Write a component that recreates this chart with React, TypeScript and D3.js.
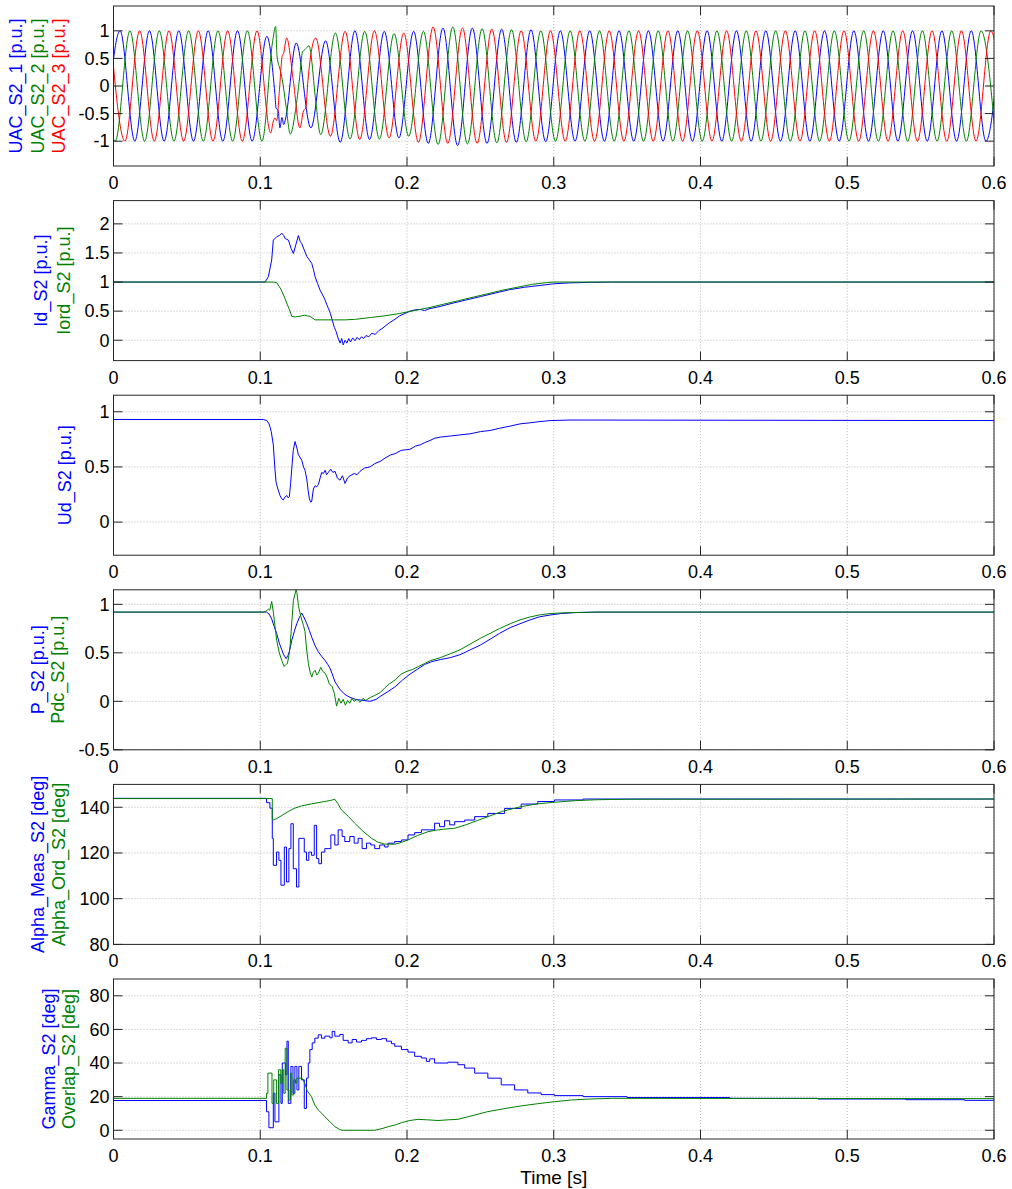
import React from "react";
import * as d3 from "d3";

// ---------- axes ----------
const X_TICKS = [0, 0.1, 0.2, 0.3, 0.4, 0.5, 0.6];
const X_TICK_LABELS = ["0", "0.1", "0.2", "0.3", "0.4", "0.5", "0.6"];

// ---------- panel 1 : three-phase AC voltage (extrema read per half cycle) ----------
const HALF_PERIOD = 0.01;
const uac1FirstExtremumTime = -0.0055; // first extremum is a trough
const uac2FirstExtremumTime = -0.0088; // first extremum is a peak
const uac3FirstExtremumTime = -0.0022; // first extremum is a peak
const uac1FirstSign = -1;
const uac2FirstSign = 1;
const uac3FirstSign = 1;
const uac1Amps = [
  1, 1, 1, 1, 1, 1, 1, 1, 1, 1, 1, 0.9, 0.79, 0.78, 0.76, 0.82, 1.02, 1.0, 0.97, 0.99, 0.94, 0.99,
  1.04, 1.05, 1.08, 1.05, 1.04, 1.03, 1.02, 1.02, 1.01, 1, 1, 1, 1, 1, 1, 1, 1, 1, 1, 1, 1, 1, 1, 1,
  1, 1, 1, 1, 1, 1, 1, 1, 1, 1, 1, 1, 1, 1, 1, 1,
];
const uac2Amps = [
  1, 1, 1, 1, 1, 1, 1, 1, 1, 1, 1, 1, 1.08, 0.88, 0.72, 0.88, 0.96, 0.96, 0.99, 0.96, 0.95, 0.91,
  0.99, 1.06, 1.07, 1.05, 1.04, 1.03, 1.02, 1.01, 1, 1, 1, 1, 1, 1, 1, 1, 1, 1, 1, 1, 1, 1, 1, 1, 1,
  1, 1, 1, 1, 1, 1, 1, 1, 1, 1, 1, 1, 1, 1, 1,
];
const uac3Amps = [
  1, 1, 1, 1, 1, 1, 1, 1, 1, 1, 1, 0.85, 0.87, 0.76, 0.87, 0.91, 0.99, 0.97, 1.0, 0.94, 0.96, 1.02,
  1.07, 1.04, 1.05, 1.04, 1.03, 1.02, 1, 1, 1, 1, 1, 1, 1, 1, 1, 1, 1, 1, 1, 1, 1, 1, 1, 1, 1, 1, 1,
  1, 1, 1, 1, 1, 1, 1, 1, 1, 1, 1, 1, 1,
];
// distorted stretches during the fault
const uac1Fault: [number, number][] = [
  [0.11, -0.15], [0.1108, -0.4], [0.1122, -0.44], [0.1134, -0.76], [0.1148, -0.57], [0.116, -0.7], [0.1172, -0.6],
];
const uac2Fault: [number, number][] = [
  [0.1085, 0.82], [0.1105, 1.08], [0.1114, 0.55], [0.1135, 0.3], [0.115, 0.12], [0.1175, -0.35], [0.1205, -0.87],
  [0.124, -0.45], [0.1268, 0.15], [0.1288, 0.62], [0.1305, 0.66], [0.1333, 0.73], [0.1345, 0.58], [0.1375, -0.2],
];
const uac3Fault: [number, number][] = [
  [0.1071, -0.85], [0.109, -0.63], [0.11, -0.58], [0.1112, -0.63], [0.113, -0.1], [0.115, 0.55], [0.116, 0.6],
  [0.117, 0.76], [0.118, 0.87], [0.1225, 0.1], [0.127, -0.76], [0.1295, -0.45], [0.131, -0.4], [0.1325, 0.1],
];

// ---------- panel 2 ----------
const idS2: [number, number][] = [
  [0, 1], [0.1033, 1.0], [0.1055, 1.09], [0.1078, 1.38], [0.1089, 1.72], [0.1112, 1.78], [0.113, 1.8], [0.1147, 1.84],
  [0.116, 1.8], [0.1169, 1.75], [0.1192, 1.72], [0.121, 1.58], [0.1226, 1.49], [0.124, 1.62], [0.126, 1.8],
  [0.1272, 1.7], [0.1283, 1.66], [0.13, 1.55], [0.1317, 1.44], [0.1335, 1.38], [0.1351, 1.32], [0.1362, 1.22],
  [0.1374, 1.09], [0.139, 0.98], [0.1408, 0.86], [0.1425, 0.78], [0.1442, 0.69], [0.1452, 0.62], [0.1464, 0.55],
  [0.1478, 0.46], [0.149, 0.35], [0.1505, 0.22], [0.1517, 0.15], [0.153, 0.04], [0.1544, -0.05], [0.1555, 0.03],
  [0.1565, -0.08], [0.1578, 0.0], [0.159, -0.05], [0.1603, 0.03], [0.1615, -0.03], [0.163, 0.04], [0.1645, -0.01],
  [0.166, 0.05], [0.1675, 0.01], [0.169, 0.06], [0.1705, 0.03], [0.172, 0.08], [0.174, 0.06], [0.176, 0.12],
  [0.1783, 0.1], [0.181, 0.17], [0.183, 0.2], [0.185, 0.24], [0.188, 0.3], [0.1918, 0.36], [0.195, 0.42],
  [0.1987, 0.46], [0.202, 0.5], [0.205, 0.52], [0.2089, 0.53], [0.212, 0.51], [0.215, 0.54], [0.2226, 0.58],
  [0.23, 0.63], [0.24, 0.69], [0.25, 0.75], [0.26, 0.81], [0.27, 0.87], [0.28, 0.91], [0.29, 0.94], [0.3, 0.97],
  [0.31, 0.985], [0.325, 0.995], [0.34, 1.0], [0.6, 1.0],
];
const iordS2: [number, number][] = [
  [0, 1], [0.109, 1.0], [0.1112, 0.99], [0.114, 0.88], [0.1165, 0.74], [0.118, 0.64], [0.12, 0.52], [0.1215, 0.41],
  [0.124, 0.4], [0.1283, 0.42], [0.13, 0.43], [0.132, 0.42], [0.134, 0.41], [0.1374, 0.35], [0.15, 0.35],
  [0.158, 0.35], [0.165, 0.36], [0.175, 0.39], [0.185, 0.42], [0.195, 0.46], [0.205, 0.51], [0.215, 0.56],
  [0.225, 0.62], [0.235, 0.68], [0.245, 0.74], [0.255, 0.8], [0.265, 0.86], [0.275, 0.91], [0.285, 0.96],
  [0.295, 0.99], [0.3, 1.0], [0.6, 1.0],
];

// ---------- panel 3 ----------
const udS2: [number, number][] = [
  [0, 0.93], [0.1021, 0.93], [0.1045, 0.92], [0.106, 0.89], [0.1067, 0.86], [0.1075, 0.82], [0.1089, 0.7],
  [0.11, 0.48], [0.1108, 0.36], [0.112, 0.3], [0.1135, 0.24], [0.1147, 0.21], [0.1157, 0.2], [0.117, 0.23],
  [0.1181, 0.24], [0.119, 0.22], [0.1198, 0.23], [0.1207, 0.35], [0.1215, 0.49], [0.1225, 0.65], [0.1237, 0.73],
  [0.1248, 0.68], [0.126, 0.61], [0.127, 0.59], [0.1283, 0.56], [0.1295, 0.5], [0.1305, 0.47], [0.1317, 0.39],
  [0.1327, 0.28], [0.1335, 0.21], [0.1345, 0.18], [0.1351, 0.19], [0.1362, 0.3], [0.1374, 0.33], [0.1385, 0.32],
  [0.1396, 0.34], [0.1408, 0.4], [0.1419, 0.45], [0.143, 0.44], [0.1442, 0.47], [0.1452, 0.43], [0.1464, 0.45],
  [0.148, 0.48], [0.1495, 0.45], [0.151, 0.46], [0.1525, 0.4], [0.1544, 0.38], [0.156, 0.42], [0.1578, 0.35],
  [0.1595, 0.4], [0.1612, 0.42], [0.164, 0.44], [0.166, 0.43], [0.168, 0.46], [0.171, 0.49], [0.1748, 0.5],
  [0.178, 0.53], [0.1817, 0.55], [0.185, 0.58], [0.189, 0.61], [0.1919, 0.62], [0.196, 0.65], [0.202, 0.66],
  [0.206, 0.69], [0.209, 0.7], [0.212, 0.72], [0.2157, 0.74], [0.219, 0.76], [0.2226, 0.77], [0.2294, 0.78],
  [0.236, 0.79], [0.243, 0.8], [0.25, 0.82], [0.2566, 0.83], [0.263, 0.85], [0.2703, 0.87], [0.277, 0.89],
  [0.2839, 0.9], [0.29, 0.91], [0.2975, 0.92], [0.3112, 0.925], [0.6, 0.92],
];

// ---------- panel 4 ----------
const pS2: [number, number][] = [
  [0, 0.92], [0.1044, 0.92], [0.106, 0.9], [0.1078, 0.85], [0.1095, 0.77], [0.1112, 0.7], [0.113, 0.6],
  [0.1147, 0.53], [0.116, 0.48], [0.1176, 0.44], [0.1188, 0.47], [0.1198, 0.51], [0.1215, 0.63], [0.1232, 0.72],
  [0.1249, 0.8], [0.1265, 0.86], [0.1283, 0.91], [0.13, 0.86], [0.1317, 0.8], [0.1335, 0.73], [0.1351, 0.66],
  [0.1372, 0.58], [0.1396, 0.51], [0.142, 0.46], [0.1442, 0.42], [0.146, 0.38], [0.1476, 0.34], [0.151, 0.2],
  [0.1544, 0.12], [0.1578, 0.07], [0.1612, 0.04], [0.165, 0.02], [0.17, 0.01], [0.1748, 0.0], [0.179, 0.02],
  [0.1817, 0.05], [0.187, 0.1], [0.1919, 0.15], [0.197, 0.22], [0.202, 0.28], [0.207, 0.33], [0.212, 0.38],
  [0.217, 0.41], [0.2226, 0.43], [0.2294, 0.45], [0.236, 0.48], [0.243, 0.53], [0.25, 0.58], [0.2566, 0.64],
  [0.263, 0.7], [0.2703, 0.76], [0.277, 0.8], [0.2839, 0.84], [0.29, 0.87], [0.2975, 0.89], [0.305, 0.905],
  [0.315, 0.915], [0.33, 0.92], [0.6, 0.92],
];
const pdcS2: [number, number][] = [
  [0, 0.92], [0.1021, 0.92], [0.104, 0.93], [0.1055, 0.95], [0.1065, 0.94], [0.1078, 1.03], [0.1089, 0.92],
  [0.11, 0.78], [0.1112, 0.63], [0.113, 0.5], [0.1147, 0.42], [0.1162, 0.36], [0.1175, 0.38], [0.1185, 0.39],
  [0.1195, 0.47], [0.1203, 0.56], [0.1215, 0.82], [0.1226, 1.04], [0.1244, 1.15], [0.125, 1.12], [0.126, 0.99],
  [0.1272, 0.9], [0.1283, 0.84], [0.1295, 0.78], [0.1305, 0.72], [0.1315, 0.55], [0.1328, 0.39], [0.134, 0.3],
  [0.1351, 0.25], [0.1362, 0.3], [0.1374, 0.32], [0.1385, 0.27], [0.1396, 0.29], [0.1412, 0.35], [0.1425, 0.31],
  [0.1442, 0.29], [0.1455, 0.25], [0.1471, 0.18], [0.149, 0.15], [0.1505, 0.08], [0.152, -0.05], [0.1535, 0.03],
  [0.155, -0.02], [0.1565, 0.02], [0.158, -0.04], [0.1595, 0.01], [0.161, -0.02], [0.1625, 0.03], [0.164, 0.0],
  [0.166, 0.02], [0.168, -0.01], [0.17, 0.03], [0.172, 0.01], [0.175, 0.04], [0.178, 0.06], [0.1817, 0.09],
  [0.185, 0.14], [0.188, 0.18], [0.1919, 0.22], [0.196, 0.28], [0.2, 0.31], [0.204, 0.33], [0.208, 0.36],
  [0.212, 0.39], [0.216, 0.42], [0.2226, 0.45], [0.2294, 0.49], [0.236, 0.53], [0.243, 0.59], [0.25, 0.65],
  [0.2566, 0.7], [0.263, 0.75], [0.2703, 0.8], [0.277, 0.84], [0.2839, 0.87], [0.29, 0.89], [0.2975, 0.905],
  [0.31, 0.915], [0.33, 0.92], [0.6, 0.92],
];

// ---------- panel 5 ----------
const alphaMeasS2: [number, number][] = [
  [0, 143.9], [0.1043, 142.0], [0.1066, 139.6], [0.1082, 126.4], [0.1089, 114.6], [0.1111, 120.4], [0.1127, 116.8],
  [0.1141, 105.9], [0.1164, 122.6], [0.1179, 107.3], [0.1195, 121.9], [0.1209, 132.8], [0.1225, 113.1],
  [0.1247, 105.1], [0.1263, 126.4], [0.13, 120.4], [0.1315, 116.8], [0.1331, 120.4], [0.1349, 119.0],
  [0.1368, 132.1], [0.1384, 117.5], [0.1399, 115.3], [0.1417, 120.4], [0.144, 121.9], [0.1481, 127.9],
  [0.1508, 123.5], [0.1531, 130.1], [0.1558, 127.2], [0.1576, 125.0], [0.161, 127.2], [0.164, 124.3],
  [0.1667, 126.4], [0.1694, 121.9], [0.1724, 124.3], [0.1753, 123.5], [0.178, 121.9], [0.1814, 123.5],
  [0.1848, 122.6], [0.1871, 124.3], [0.1916, 125.0], [0.1962, 125.7], [0.2007, 127.9], [0.2052, 128.9],
  [0.2098, 130.1], [0.2188, 133.0], [0.2222, 131.5], [0.2256, 134.1], [0.2291, 132.3], [0.2325, 133.7],
  [0.2393, 134.4], [0.2461, 135.9], [0.2551, 137.3], [0.2665, 139.5], [0.2778, 141.4], [0.2891, 142.5],
  [0.3005, 143.2], [0.32, 143.6], [0.6, 143.6],
];
const alphaOrdS2: [number, number][] = [
  [0, 143.8], [0.1082, 143.8], [0.1082, 134.7], [0.109, 134.5], [0.111, 135.0], [0.115, 136.5], [0.119, 138.1],
  [0.123, 139.5], [0.1282, 140.6], [0.135, 141.5], [0.142, 142.3], [0.148, 143.0], [0.1508, 143.5],
  [0.153, 141.5], [0.1554, 138.8], [0.16, 136.0], [0.1644, 133.0], [0.17, 129.5], [0.1758, 126.4],
  [0.18, 124.8], [0.1848, 123.9], [0.1916, 123.8], [0.196, 124.6], [0.2007, 125.7], [0.207, 127.6],
  [0.2143, 129.3], [0.22, 130.0], [0.225, 130.4], [0.2324, 130.8], [0.24, 132.3], [0.248, 134.2],
  [0.2551, 135.9], [0.265, 138.2], [0.2778, 140.3], [0.289, 141.5], [0.3005, 142.2], [0.315, 142.9],
  [0.33, 143.3], [0.35, 143.5], [0.6, 143.6],
];

// ---------- panel 6 ----------
const gammaS2: [number, number][] = [
  [0, 17.7], [0.1043, 11], [0.1059, 1.5], [0.1089, 22], [0.11, 5], [0.1127, 33], [0.1141, 16], [0.115, 40],
  [0.1173, 33], [0.1182, 53], [0.1191, 16], [0.1209, 38], [0.1223, 22], [0.1236, 38], [0.125, 24], [0.1263, 38],
  [0.1281, 30], [0.13, 13], [0.1315, 31], [0.1327, 40], [0.1338, 48], [0.1354, 52], [0.1372, 54.8], [0.1395, 56.8],
  [0.1417, 54.8], [0.144, 56], [0.1474, 55], [0.149, 58.8], [0.1508, 56], [0.1542, 57], [0.1565, 53.5],
  [0.1599, 52], [0.1626, 54], [0.1656, 52.5], [0.169, 53.5], [0.1724, 54.5], [0.1758, 55], [0.1792, 54],
  [0.1826, 54.5], [0.186, 53], [0.1894, 51.5], [0.1916, 50], [0.1962, 48], [0.2007, 46.5], [0.2052, 44],
  [0.2098, 43], [0.2132, 41], [0.2155, 42.5], [0.2188, 40], [0.2279, 40.5], [0.2347, 39], [0.2393, 37],
  [0.2461, 34], [0.2551, 31], [0.2642, 27], [0.2733, 24], [0.2823, 22.2], [0.2914, 21.2], [0.3005, 20.6],
  [0.32, 20], [0.35, 19.5], [0.42, 19], [0.48, 18.6], [0.54, 18.2], [0.58, 17.8], [0.6, 17.6],
];
const overlapS2: [number, number][] = [
  [0, 19], [0.1043, 19], [0.1043, 22], [0.1052, 22], [0.1052, 34], [0.108, 34], [0.108, 16], [0.1092, 16],
  [0.1092, 30], [0.111, 30], [0.111, 16], [0.1125, 16], [0.1125, 36], [0.114, 36], [0.114, 28], [0.115, 28],
  [0.115, 36], [0.116, 36], [0.116, 22], [0.117, 22], [0.117, 48.8], [0.1182, 48.8], [0.1182, 24], [0.1195, 24],
  [0.1195, 18], [0.1205, 18], [0.1205, 34], [0.1215, 34], [0.1215, 21], [0.1228, 21], [0.1228, 30], [0.124, 30],
  [0.124, 28], [0.125, 28], [0.125, 31], [0.1285, 31], [0.1304, 27.9], [0.132, 23.5], [0.1349, 20], [0.1372, 15],
  [0.1395, 12.1], [0.142, 10], [0.144, 8.1], [0.147, 5.5], [0.1508, 2.2], [0.154, 0.5], [0.1558, 0], [0.178, 0],
  [0.183, 1.0], [0.1871, 2.1], [0.192, 3.2], [0.1962, 4.5], [0.202, 5.8], [0.2075, 6.5], [0.214, 6.2],
  [0.2211, 5.8], [0.228, 6.2], [0.2347, 6.5], [0.245, 8.8], [0.2551, 11.1], [0.266, 12.8], [0.2778, 14.5],
  [0.289, 15.8], [0.3005, 17.0], [0.312, 18.0], [0.325, 18.6], [0.34, 19.0], [0.6, 18.8],
];

// ---------- layout ----------
const W = 1012;
const H = 1189;
const LEFT = 113.5;
const RIGHT = 994;
const PANEL_H = 160;
const PANEL_STEP = 194.6;
const FIRST_TOP = 6;
const FONT = "'Liberation Sans', Arial, Helvetica, sans-serif";
const FS = 18;
const BLUE = "#0000ff";
const GREEN = "#008000";
const RED = "#ff0000";

function buildWave(first: number, sign: number, amps: number[], fault: [number, number][]) {
  const lo = fault[0][0];
  const hi = fault[fault.length - 1][0];
  const pts: [number, number][] = [];
  amps.forEach((a, k) => {
    const t = first + k * HALF_PERIOD;
    if (t >= lo && t <= hi) return;
    const s = k % 2 === 0 ? sign : -sign;
    pts.push([t, s * a]);
  });
  fault.forEach((p) => pts.push(p));
  pts.sort((a, b) => a[0] - b[0]);
  return pts;
}

type Series = { data: [number, number][]; color: string; curve: any };
type Label = { text: string; color: string; x: number };

function Panel(props: {
  index: number;
  yDomain: [number, number];
  yTicks: number[];
  yTickLabels: string[];
  series: Series[];
  labels: Label[];
}) {
  const { index, yDomain, yTicks, yTickLabels, series, labels } = props;
  const top = FIRST_TOP + index * PANEL_STEP;
  const bottom = top + PANEL_H;
  const x = d3.scaleLinear().domain([0, 0.6]).range([LEFT, RIGHT]);
  const y = d3.scaleLinear().domain(yDomain).range([bottom, top]);
  const clipId = `clip-${index}`;
  const tickLen = 9;
  const mid = (top + bottom) / 2;
  return (
    <g>
      <defs>
        <clipPath id={clipId}>
          <rect x={LEFT} y={top} width={RIGHT - LEFT} height={PANEL_H} />
        </clipPath>
      </defs>
      <rect x={LEFT} y={top} width={RIGHT - LEFT} height={PANEL_H} fill="#ffffff" />
      {X_TICKS.map((t) => (
        <line key={`gx${t}`} x1={x(t)} x2={x(t)} y1={top} y2={bottom} stroke="#b8b8b8" strokeWidth={1} strokeDasharray="1,2" />
      ))}
      {yTicks.map((v) => (
        <line key={`gy${v}`} x1={LEFT} x2={RIGHT} y1={y(v)} y2={y(v)} stroke="#b8b8b8" strokeWidth={1} strokeDasharray="1,2" />
      ))}
      <g clipPath={`url(#${clipId})`}>
        {series.map((s, i) => {
          const line = d3
            .line<[number, number]>()
            .x((d) => x(d[0]))
            .y((d) => y(d[1]))
            .curve(s.curve);
          return <path key={i} d={line(s.data) || ""} fill="none" stroke={s.color} strokeWidth={1} />;
        })}
      </g>
      {X_TICKS.map((t) => (
        <g key={`tx${t}`}>
          <line x1={x(t)} x2={x(t)} y1={bottom} y2={bottom - tickLen} stroke="#262626" strokeWidth={1} />
          <line x1={x(t)} x2={x(t)} y1={top} y2={top + tickLen} stroke="#262626" strokeWidth={1} />
        </g>
      ))}
      {yTicks.map((v) => (
        <g key={`ty${v}`}>
          <line x1={LEFT} x2={LEFT + tickLen} y1={y(v)} y2={y(v)} stroke="#262626" strokeWidth={1} />
          <line x1={RIGHT} x2={RIGHT - tickLen} y1={y(v)} y2={y(v)} stroke="#262626" strokeWidth={1} />
        </g>
      ))}
      <rect x={LEFT} y={top} width={RIGHT - LEFT} height={PANEL_H} fill="none" stroke="#262626" strokeWidth={1} />
      {X_TICKS.map((t, i) => (
        <text key={`lx${t}`} x={x(t)} y={bottom + 23} textAnchor="middle" fontFamily={FONT} fontSize={FS} fill="#000">
          {X_TICK_LABELS[i]}
        </text>
      ))}
      {yTicks.map((v, i) => (
        <text key={`ly${v}`} x={LEFT - 4} y={y(v)} dy="0.35em" textAnchor="end" fontFamily={FONT} fontSize={FS} fill="#000">
          {yTickLabels[i]}
        </text>
      ))}
      {labels.map((l, i) => (
        <text
          key={`yl${i}`}
          transform={`translate(${l.x},${mid}) rotate(-90)`}
          textAnchor="middle"
          fontFamily={FONT}
          fontSize={FS}
          fill={l.color}
        >
          {l.text}
        </text>
      ))}
    </g>
  );
}

export default function App() {
  const uac1 = buildWave(uac1FirstExtremumTime, uac1FirstSign, uac1Amps, uac1Fault);
  const uac2 = buildWave(uac2FirstExtremumTime, uac2FirstSign, uac2Amps, uac2Fault);
  const uac3 = buildWave(uac3FirstExtremumTime, uac3FirstSign, uac3Amps, uac3Fault);
  const mono = d3.curveMonotoneX;
  const lin = d3.curveLinear;
  const step = d3.curveStepAfter;
  return (
    <svg
      width={W}
      height={H}
      viewBox={`0 0 ${W} ${H}`}
      style={{ position: "absolute", left: 0, top: 0, display: "block", background: "#fff" }}
    >
      <rect x={0} y={0} width={W} height={H} fill="#ffffff" />
      <Panel
        index={0}
        yDomain={[-1.45, 1.45]}
        yTicks={[-1, -0.5, 0, 0.5, 1]}
        yTickLabels={["-1", "-0.5", "0", "0.5", "1"]}
        series={[
          { data: uac1, color: BLUE, curve: mono },
          { data: uac2, color: GREEN, curve: mono },
          { data: uac3, color: RED, curve: mono },
        ]}
        labels={[
          { text: "UAC_S2_1 [p.u.]", color: BLUE, x: 22 },
          { text: "UAC_S2_2 [p.u.]", color: GREEN, x: 43.5 },
          { text: "UAC_S2_3 [p.u.]", color: RED, x: 64.5 },
        ]}
      />
      <Panel
        index={1}
        yDomain={[-0.35, 2.4]}
        yTicks={[0, 0.5, 1, 1.5, 2]}
        yTickLabels={["0", "0.5", "1", "1.5", "2"]}
        series={[
          { data: idS2, color: BLUE, curve: lin },
          { data: iordS2, color: GREEN, curve: lin },
        ]}
        labels={[
          { text: "Id_S2 [p.u.]", color: BLUE, x: 46.5 },
          { text: "Iord_S2 [p.u.]", color: GREEN, x: 69.5 },
        ]}
      />
      <Panel
        index={2}
        yDomain={[-0.3, 1.15]}
        yTicks={[0, 0.5, 1]}
        yTickLabels={["0", "0.5", "1"]}
        series={[{ data: udS2, color: BLUE, curve: lin }]}
        labels={[{ text: "Ud_S2 [p.u.]", color: BLUE, x: 70.5 }]}
      />
      <Panel
        index={3}
        yDomain={[-0.5, 1.15]}
        yTicks={[-0.5, 0, 0.5, 1]}
        yTickLabels={["-0.5", "0", "0.5", "1"]}
        series={[
          { data: pS2, color: BLUE, curve: lin },
          { data: pdcS2, color: GREEN, curve: lin },
        ]}
        labels={[
          { text: "P_S2 [p.u.]", color: BLUE, x: 43.5 },
          { text: "Pdc_S2 [p.u.]", color: GREEN, x: 63.5 },
        ]}
      />
      <Panel
        index={4}
        yDomain={[80, 150]}
        yTicks={[80, 100, 120, 140]}
        yTickLabels={["80", "100", "120", "140"]}
        series={[
          { data: alphaMeasS2, color: BLUE, curve: step },
          { data: alphaOrdS2, color: GREEN, curve: lin },
        ]}
        labels={[
          { text: "Alpha_Meas_S2 [deg]", color: BLUE, x: 43.5 },
          { text: "Alpha_Ord_S2 [deg]", color: GREEN, x: 64.5 },
        ]}
      />
      <Panel
        index={5}
        yDomain={[-5.2, 90]}
        yTicks={[0, 20, 40, 60, 80]}
        yTickLabels={["0", "20", "40", "60", "80"]}
        series={[
          { data: gammaS2, color: BLUE, curve: step },
          { data: overlapS2, color: GREEN, curve: lin },
        ]}
        labels={[
          { text: "Gamma_S2 [deg]", color: BLUE, x: 54.5 },
          { text: "Overlap_S2 [deg]", color: GREEN, x: 74.5 },
        ]}
      />
      <text x={(LEFT + RIGHT) / 2} y={1184} textAnchor="middle" fontFamily={FONT} fontSize={19} fill="#000">
        Time [s]
      </text>
    </svg>
  );
}
